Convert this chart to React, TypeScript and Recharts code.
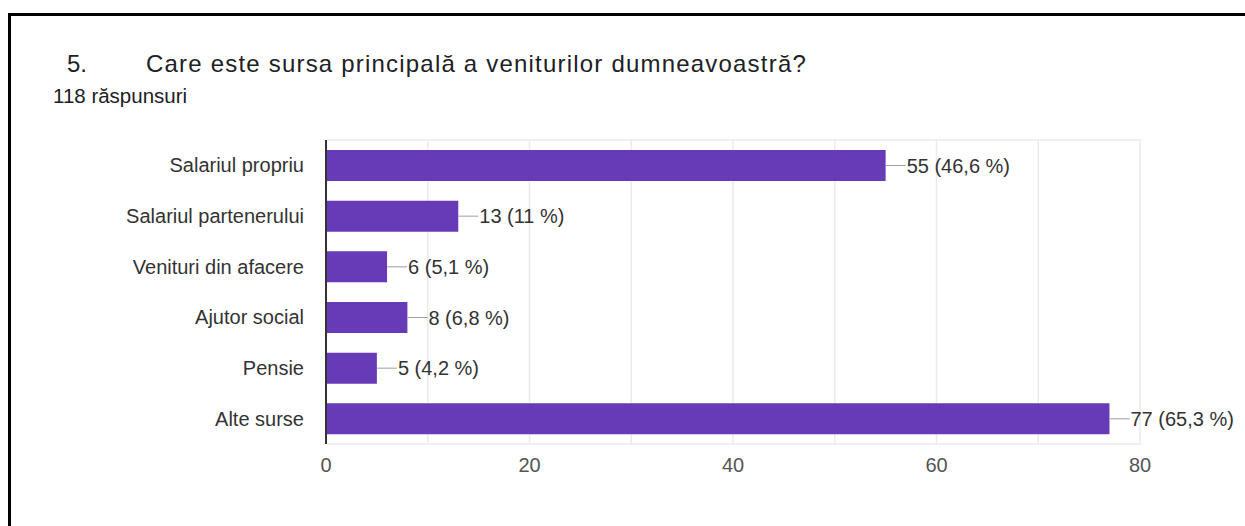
import React from 'react'
import { BarChart, Bar, XAxis, YAxis, CartesianGrid, LabelList } from 'recharts'

const categories = [
  'Salariul propriu',
  'Salariul partenerului',
  'Venituri din afacere',
  'Ajutor social',
  'Pensie',
  'Alte surse',
]
const counts = [55, 13, 6, 8, 5, 77]
const totalResponses = 118
const xTicks = [0, 10, 20, 30, 40, 50, 60, 70, 80]

const data = categories.map((name, i) => ({ name, count: counts[i] }))

const FONT = '"Liberation Sans", Arial, sans-serif'

function pct(v: number) {
  const p = Math.round((v / totalResponses) * 1000) / 10
  return String(p).replace('.', ',')
}

function BarLabel(props: any) {
  const { x, y, width, height, value } = props
  const x0 = Number(x) + Number(width)
  const cy = Number(y) + Number(height) / 2
  return (
    <g>
      <line x1={x0} y1={cy} x2={x0 + 20} y2={cy} stroke="#9e9e9e" strokeWidth={1} />
      <text
        x={x0 + 21}
        y={cy}
        dominantBaseline="central"
        fontSize={20}
        fontFamily={FONT}
        fill="#333"
      >
        {`${value} (${pct(Number(value))} %)`}
      </text>
    </g>
  )
}

export default function App() {
  return (
    <div
      style={{
        position: 'absolute',
        left: 0,
        top: 0,
        width: 1245,
        height: 526,
        background: '#fff',
        overflow: 'hidden',
      }}
    >
      {/* frame: top + left only */}
      <div
        style={{
          position: 'absolute',
          left: 8,
          top: 13,
          width: 1300,
          height: 600,
          borderTop: '3px solid #000',
          borderLeft: '3px solid #000',
        }}
      />
      <div
        style={{
          position: 'absolute',
          left: 67,
          top: 52,
          fontFamily: FONT,
          fontSize: 24,
          lineHeight: '24px',
          color: '#202124',
          whiteSpace: 'nowrap',
        }}
      >
        5.
      </div>
      <div
        style={{
          position: 'absolute',
          left: 146,
          top: 52,
          fontFamily: FONT,
          fontSize: 24,
          lineHeight: '24px',
          letterSpacing: 1.2,
          color: '#202124',
          whiteSpace: 'nowrap',
        }}
      >
        Care este sursa principală a veniturilor dumneavoastră?
      </div>
      <div
        style={{
          position: 'absolute',
          left: 53,
          top: 86,
          fontFamily: FONT,
          fontSize: 20.5,
          lineHeight: '20px',
          color: '#202124',
          whiteSpace: 'nowrap',
        }}
      >
        118 răspunsuri
      </div>
      <div style={{ position: 'absolute', left: 0, top: 0 }}>
        <BarChart
          width={1245}
          height={526}
          data={data}
          layout="vertical"
          margin={{ top: 140, right: 105, bottom: 52, left: 0 }}
        >
          <CartesianGrid
            stroke="#ebebeb"
            strokeWidth={1.5}
            horizontalCoordinatesGenerator={({ offset }: any) => [
              offset.top,
              offset.top + offset.height,
            ]}
          />
          <XAxis
            type="number"
            domain={[0, 80]}
            ticks={xTicks}
            tickFormatter={(v: number) => (v % 20 === 0 ? String(v) : '')}
            axisLine={false}
            tickLine={false}
            tickMargin={8}
            height={30}
            tick={{ fontSize: 20, fontFamily: FONT, fill: '#555' }}
          />
          <YAxis
            type="category"
            dataKey="name"
            width={326}
            axisLine={{ stroke: '#333', strokeWidth: 2 }}
            tickLine={false}
            tickMargin={16}
            interval={0}
            tick={{ fontSize: 20, fontFamily: FONT, fill: '#333' }}
          />
          <Bar dataKey="count" fill="#673ab7" barSize={31} isAnimationActive={false}>
            <LabelList dataKey="count" content={BarLabel} />
          </Bar>
        </BarChart>
      </div>
    </div>
  )
}
